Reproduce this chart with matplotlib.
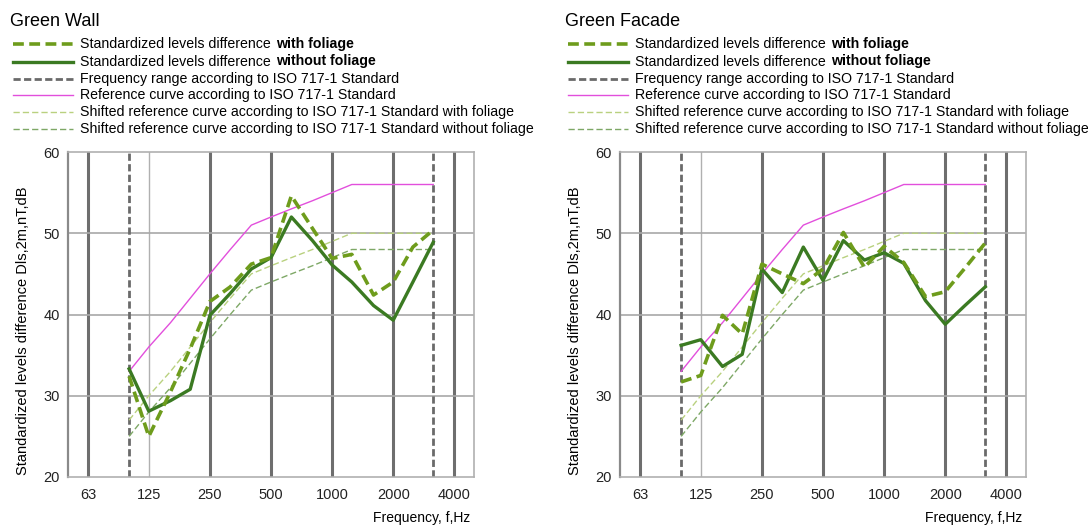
import matplotlib
matplotlib.use("Agg")
import matplotlib.pyplot as plt
from matplotlib.lines import Line2D

plt.rcParams['font.family'] = ['Liberation Sans', 'DejaVu Sans']

# Bandas de tercio de octava (Hz)
freqs = [100, 125, 160, 200, 250, 315, 400, 500, 630, 800, 1000, 1250, 1600, 2000, 2500, 3150]

# Curva de referencia ISO 717-1 y curvas desplazadas
ref_curve = [33, 36, 39, 42, 45, 48, 51, 52, 53, 54, 55, 56, 56, 56, 56, 56]
shift_with = [27, 30, 33, 36, 39, 42, 45, 46, 47, 48, 49, 50, 50, 50, 50, 50]
shift_without = [25, 28, 31, 34, 37, 40, 43, 44, 45, 46, 47, 48, 48, 48, 48, 48]

# Green Wall
wall_with = [32.4, 25.0, 30.5, 35.8, 41.6, 43.4, 46.2, 47.0, 54.6, 50.6, 46.9, 47.4, 42.4, 44.0, 48.3, 50.4]
wall_without = [33.3, 28.1, 29.4, 30.8, 39.9, 42.6, 45.6, 47.0, 52.0, 49.1, 46.1, 44.0, 41.1, 39.3, 44.0, 48.9]

# Green Facade
facade_with = [31.7, 32.5, 39.9, 37.6, 46.2, 45.0, 43.8, 45.6, 50.1, 45.8, 48.4, 46.4, 42.2, 42.8, 45.7, 48.8]
facade_without = [36.2, 36.9, 33.6, 35.1, 45.6, 42.7, 48.3, 44.2, 49.1, 46.7, 47.6, 46.3, 41.7, 38.8, 41.1, 43.4]

# Ejes
tick_freqs = [63, 125, 250, 500, 1000, 2000, 4000]
tick_labels = ["63", "125", "250", "500", "1000", "2000", "4000"]
thick_grid = [63, 250, 500, 1000, 2000, 4000]
thin_grid = [125]
range_lines = [100, 3150]
y_ticks = [20, 30, 40, 50, 60]

# Leyenda: (texto normal, texto en negrita)
legend_text = [
    ("Standardized levels difference", "with foliage"),
    ("Standardized levels difference", "without foliage"),
    ("Frequency range according to ISO 717-1 Standard", ""),
    ("Reference curve according to ISO 717-1 Standard", ""),
    ("Shifted reference curve according to ISO 717-1 Standard with foliage", ""),
    ("Shifted reference curve according to ISO 717-1 Standard without foliage", ""),
]

# Estilos
st_with = dict(color="#6e9c1c", lw=2.6, dashes=(3.0, 1.5))
st_without = dict(color="#3b7a22", lw=2.4)
st_range = dict(color="#6a6a6a", lw=2.0, dashes=(2.6, 1.2))
st_ref = dict(color="#e24fdc", lw=1.0)
st_sh_with = dict(color="#b9d17f", lw=1.0, dashes=(4.5, 2.2))
st_sh_without = dict(color="#7ea866", lw=1.0, dashes=(4.5, 2.2))
legend_styles = [st_with, st_without, st_range, st_ref, st_sh_with, st_sh_without]

W, H = 1088, 528
LEG_FS = 10.2
fig = plt.figure(figsize=(W / 100, H / 100), dpi=100)
renderer = fig.canvas.get_renderer()


def px(x, y):
    return x / W, 1 - y / H


def draw_legend(x0, title):
    fig.text(*px(x0 - 3, 21), title, fontsize=13, va="center")
    rows_y = [44, 61.5, 78.5, 95, 112, 128.5]
    for (normal, bold), st, y in zip(legend_text, legend_styles, rows_y):
        fig.add_artist(Line2D([x0 / W, (x0 + 60) / W], [1 - y / H, 1 - y / H],
                              transform=fig.transFigure, **st))
        t = fig.text(*px(x0 + 67, y), normal, fontsize=LEG_FS, va="center")
        if bold:
            bb = t.get_window_extent(renderer)
            fig.text(*px(bb.x1 + 5, y), bold, fontsize=LEG_FS, va="center",
                     fontweight="bold")


def draw_panel(left_px, with_fol, without_fol):
    ax = fig.add_axes([left_px / W, (H - 477) / H, 406 / W, 325 / H])
    ax.set_xscale('log')
    ax.set_xlim(50, 5000)
    ax.set_ylim(20, 60)

    # Rejilla
    for f in thick_grid:
        ax.axvline(f, color="#6e6e6e", lw=2.2, zorder=1)
    for f in thin_grid:
        ax.axvline(f, color="#b0b0b0", lw=1.0, zorder=1)
    for y in [30, 40, 50]:
        ax.axhline(y, color="#a8a8a8", lw=1.2, zorder=1)

    # Curvas
    ax.plot(freqs, shift_with, zorder=3, **st_sh_with)
    ax.plot(freqs, shift_without, zorder=3, **st_sh_without)
    ax.plot(freqs, ref_curve, zorder=3, **st_ref)
    for f in range_lines:
        ax.axvline(f, zorder=2, **st_range)
    ax.plot(freqs, without_fol, zorder=4, **st_without)
    ax.plot(freqs, with_fol, zorder=5, **st_with)

    ax.set_xticks(tick_freqs)
    ax.set_xticklabels(tick_labels)
    ax.minorticks_off()
    ax.set_yticks(y_ticks)
    ax.tick_params(length=0, labelsize=10.5, colors="#222222")
    ax.tick_params(axis='x', pad=8)
    ax.tick_params(axis='y', pad=6)

    for s in ["top", "right", "bottom"]:
        ax.spines[s].set_color("#b0b0b0")
        ax.spines[s].set_linewidth(1.2)
    ax.spines["left"].set_color("#8a8a8a")
    ax.spines["left"].set_linewidth(1.6)

    ax.set_ylabel("Standardized levels difference Dls,2m,nT,dB", fontsize=10.5)
    ax.yaxis.set_label_coords(-0.094, 0.45)
    ax.set_xlabel("Frequency, f,Hz", fontsize=10, ha="right")
    ax.xaxis.set_label_coords(0.99, -0.105)
    return ax


draw_panel(68, wall_with, wall_without)
draw_panel(620, facade_with, facade_without)
draw_legend(13, "Green Wall")
draw_legend(568, "Green Facade")

plt.savefig("out.png", dpi=100)
